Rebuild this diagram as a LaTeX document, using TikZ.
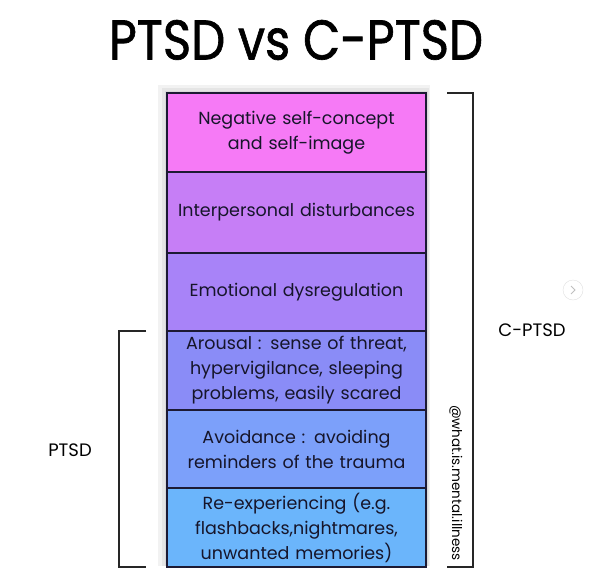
\documentclass[tikz,border=0pt]{standalone}
\usepackage{fontspec}
\setmainfont{Poppins}
\newfontfamily\titlefont[FakeBold=1.2]{Poppins}
\usetikzlibrary{positioning,shadows}
\definecolor{RowPink}{RGB}{246,122,246}
\definecolor{RowOrchid}{RGB}{198,126,246}
\definecolor{RowViolet}{RGB}{168,131,248}
\definecolor{RowIndigo}{RGB}{138,140,247}
\definecolor{RowBlue}{RGB}{124,160,250}
\definecolor{RowSky}{RGB}{107,181,251}
\definecolor{EdgeNavy}{RGB}{28,26,52}
\tikzset{
  row/.style={draw=EdgeNavy,line width=1.6pt,minimum width=259pt,
    minimum height=79pt,text width=255pt,align=center,inner sep=0pt,outer sep=0pt,
    font=\fontsize{17.5}{25}\selectfont,text=EdgeNavy!80!black},
  bracket/.style={line width=1.6pt,black!85},
  sidelabel/.style={font=\fontsize{18}{20}\selectfont}
}
\begin{document}
\begin{tikzpicture}[x=1pt,y=-1pt]
  \useasboundingbox[fill=white] (0,0) rectangle (592,581);
  \node[font=\titlefont\fontsize{56}{58}\selectfont,xscale=0.86] (title) at (296,40) {PTSD vs C-PTSD};
  % soft shadow behind the stack
  \fill[black,opacity=0.05] (158,85) rectangle (430,566);
  \fill[black,opacity=0.05] (162,88) rectangle (429,566);
  \fill[black,opacity=0.05] (165,91) rectangle (428,566);
  \node[row,fill=RowPink] (neg) at (296.5,132.5) {Negative self-concept\\and self-image};
  \node[row,fill=RowOrchid,minimum height=81pt,below=0pt of neg] (inter) {Interpersonal disturbances};
  \node[row,fill=RowViolet,minimum height=78pt,below=0pt of inter] (emo) {Emotional dysregulation};
  \node[row,fill=RowIndigo,below=0pt of emo] (arousal) {Arousal : sense of threat,\\hypervigilance, sleeping\\problems, easily scared};
  \node[row,fill=RowBlue,minimum height=78pt,below=0pt of arousal] (avoid) {Avoidance : avoiding\\reminders of the trauma};
  \node[row,fill=RowSky,below=0pt of avoid] (reexp) {Re-experiencing (e.g.\\flashbacks,nightmares,\\unwanted memories)};
  % brackets
  \draw[bracket] ([xshift=21pt]neg.north east) -| ([xshift=47pt]reexp.south east)
    -- ([xshift=21pt]reexp.south east);
  \draw[bracket] ([xshift=-21pt]arousal.north west) -| ([xshift=-48pt]reexp.south west)
    -- ([xshift=-21pt]reexp.south west);
  \node[sidelabel] (cptsd) at (532,330) {C-PTSD};
  \node[sidelabel] (ptsd) at (70,450) {PTSD};
  \node[rotate=-90,font=\fontsize{13.5}{14}\selectfont] (handle) at (456,483) {@what.is.mental.illness};
  % page arrow
  \node[circle,draw=black!12,fill=white,minimum size=20pt,inner sep=0pt] (next) at (573,290) {};
  \draw[black!25,line width=0.8pt] ([xshift=-2pt,yshift=-4pt]next.center) -- ([xshift=2pt]next.center)
    -- ([xshift=-2pt,yshift=4pt]next.center);
\end{tikzpicture}
\end{document}
